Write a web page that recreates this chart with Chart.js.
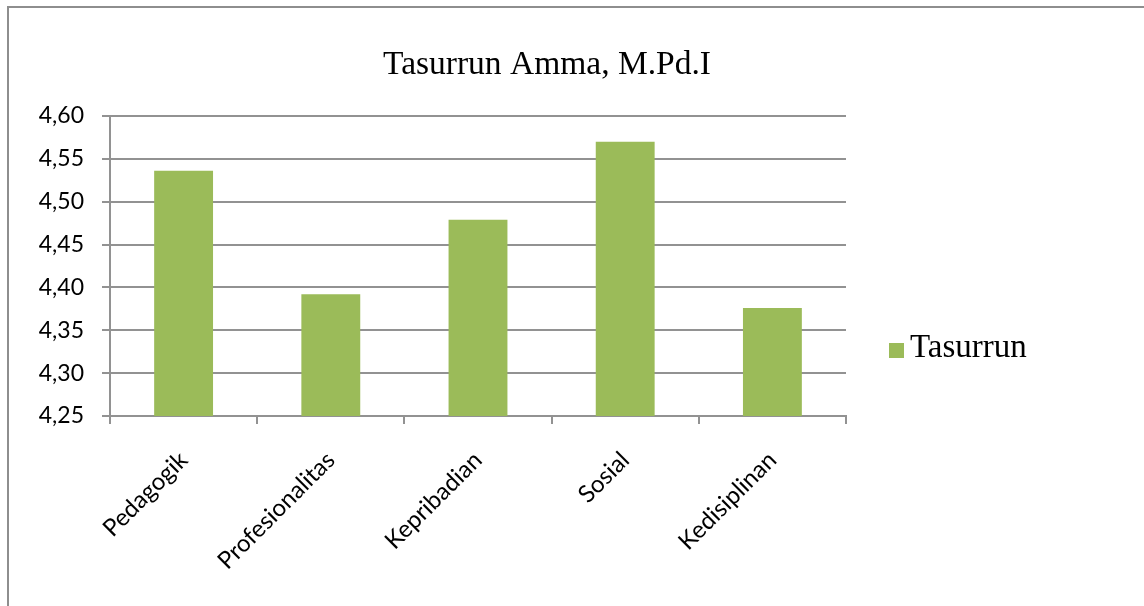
<!DOCTYPE html>
<html>
<head>
<meta charset="utf-8">
<script src="https://cdn.jsdelivr.net/npm/chart.js@4/dist/chart.umd.min.js"></script>
<style>
  html, body { margin: 0; padding: 0; background: #fff; }
  #wrap { position: relative; width: 1144px; height: 606px; overflow: hidden; }
  #frame { position: absolute; left: 7px; top: 6px; width: 1200px; height: 700px; border: 2px solid #8e8e8e; box-sizing: border-box; }
  canvas { position: absolute; left: 0; top: 0; }
</style>
</head>
<body>
<div id="wrap">
  <div id="frame"></div>
  <canvas id="chart" width="1144" height="606"></canvas>
</div>
<script>
const chartTitle = "Tasurrun Amma, M.Pd.I";
const seriesName = "Tasurrun";
const categories = ["Pedagogik", "Profesionalitas", "Kepribadian", "Sosial", "Kedisiplinan"];
const scores = [4.536, 4.392, 4.479, 4.570, 4.376];
const yMin = 4.25;
const yMax = 4.60;
const yStep = 0.05;

const gridColor = "#929292";
const barColor = "#9BBB59";
const serif = "'Liberation Serif', 'Times New Roman', serif";
const sans = "Lato, 'Open Sans', sans-serif";

// title and legend sit where Excel put them, not where Chart.js would
const excelDecor = {
  id: "excelDecor",
  afterDraw(chart) {
    const c = chart.ctx;
    const ds = chart.data.datasets[0];
    c.save();
    c.fillStyle = "#000";
    c.textAlign = "center";
    c.textBaseline = "alphabetic";
    c.font = "33.5px " + serif;
    c.fillText(chartTitle, 547, 74);

    c.fillStyle = ds.backgroundColor;
    c.fillRect(889, 343, 15, 15);
    c.fillStyle = "#000";
    c.textAlign = "left";
    c.font = "33px " + serif;
    c.fillText(ds.label, 910, 357);
    c.restore();
  }
};

const ctx = document.getElementById("chart").getContext("2d");

new Chart(ctx, {
  type: "bar",
  data: {
    labels: categories,
    datasets: [{
      label: seriesName,
      data: scores,
      backgroundColor: barColor,
      borderWidth: 0,
      categoryPercentage: 0.4,
      barPercentage: 1
    }]
  },
  options: {
    responsive: false,
    animation: false,
    layout: { padding: { left: 30, right: 298, top: 116, bottom: 0 } },
    plugins: {
      title: { display: false },
      legend: { display: false },
      tooltip: { enabled: false }
    },
    scales: {
      x: {
        offset: true,
        grid: {
          offset: true,
          drawOnChartArea: false,
          color: gridColor,
          lineWidth: 2,
          tickLength: 8
        },
        border: { color: gridColor, width: 2 },
        ticks: {
          color: "#000",
          minRotation: 45,
          maxRotation: 45,
          padding: 22,
          font: { family: sans, size: 24 }
        },
        afterFit(scale) { scale.height = 190; }
      },
      y: {
        min: yMin,
        max: yMax,
        grid: {
          color: gridColor,
          lineWidth: 2,
          tickLength: 8
        },
        border: { color: gridColor, width: 2 },
        ticks: {
          stepSize: yStep,
          color: "#000",
          padding: 18,
          font: { family: sans, size: 23 },
          callback(value) {
            return value.toFixed(2).replace(".", ",");
          }
        },
        afterFit(scale) { scale.width = 80; }
      }
    }
  },
  plugins: [excelDecor]
});
</script>
</body>
</html>
